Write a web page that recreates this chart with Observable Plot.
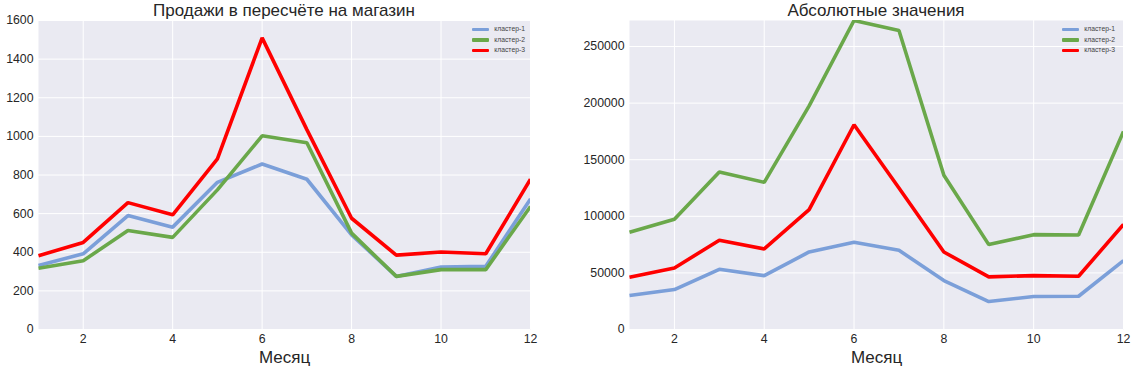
<!DOCTYPE html>
<html>
<head>
<meta charset="utf-8">
<script src="https://cdn.jsdelivr.net/npm/d3@7"></script>
<script src="https://cdn.jsdelivr.net/npm/@observablehq/plot@0.6"></script>
<style>
  html, body { margin: 0; padding: 0; background: #fff; }
  body { width: 1135px; height: 371px; position: relative; overflow: hidden; font-family: "Liberation Sans", Arial, sans-serif; color: #262626; }
  .panel { position: absolute; top: 0; }
  .title { position: absolute; top: 1px; font-size: 17px; text-align: center; white-space: nowrap; color: #262626; }
  .legend { position: absolute; font-size: 6.8px; color: #444; line-height: 10px; }
  .legend div { display: flex; align-items: center; height: 10.5px; }
  .legend span.sw { display: inline-block; width: 17px; height: 3.5px; margin-right: 5px; border-radius: 1px; }
</style>
</head>
<body>
<script>
const months = [1,2,3,4,5,6,7,8,9,10,11,12];
const seriesNames = ["кластер-1", "кластер-2", "кластер-3"];
const colors = ["#7b9fd9", "#6aa84a", "#ff0000"];
const xTicks = [2,4,6,8,10,12];

// Left panel: sales per store
const perStore1 = [332, 392, 590, 530, 762, 857, 778, 490, 275, 323, 327, 676];
const perStore2 = [317, 356, 513, 477, 723, 1003, 967, 499, 275, 310, 310, 637];
const perStore3 = [382, 451, 657, 594, 884, 1510, 1035, 576, 385, 401, 392, 778];
const perStoreTicks = [0, 200, 400, 600, 800, 1000, 1200, 1400, 1600];

// Right panel: absolute values
const abs1 = [30000, 35300, 53200, 47600, 68500, 77100, 70000, 43200, 24700, 29100, 29400, 60900];
const abs2 = [85900, 97350, 139100, 130000, 197600, 273000, 264100, 136200, 75000, 83800, 83500, 175000];
const abs3 = [46200, 54400, 78800, 71200, 105900, 180900, 125000, 68500, 46500, 47600, 47000, 92900];
const absTicks = [0, 50000, 100000, 150000, 200000, 250000];

const titles = ["Продажи в пересчёте на магазин", "Абсолютные значения"];
const xLabel = "Месяц";

function toRows(arrs) {
  const rows = [];
  arrs.forEach((arr, i) => arr.forEach((v, j) => rows.push({month: months[j], value: v, series: seriesNames[i]})));
  return rows;
}

function makePanel({left, width, marginLeft, marginRight, yDomain, yTicks, data, title, legendRight}) {
  const H = 371, marginTop = 20, marginBottom = 42;
  const div = document.createElement("div");
  div.className = "panel";
  div.style.left = left + "px";
  div.style.width = width + "px";
  div.style.height = H + "px";
  const plot = Plot.plot({
    width, height: H, marginLeft, marginRight, marginTop, marginBottom,
    style: {fontFamily: "'Liberation Sans', Arial, sans-serif", color: "#262626", background: "transparent", overflow: "visible"},
    x: {domain: [1, 12]},
    y: {domain: yDomain},
    color: {domain: seriesNames, range: colors},
    marks: [
      Plot.frame({fill: "#eaeaf2", stroke: null}),
      Plot.gridX(xTicks, {stroke: "#fff", strokeOpacity: 1, strokeWidth: 1}),
      Plot.gridY(yTicks, {stroke: "#fff", strokeOpacity: 1, strokeWidth: 1}),
      Plot.axisX(xTicks, {tickSize: 0, tickPadding: 5, fontSize: 12.3, label: null, fill: "#262626", tickFormat: d => String(d)}),
      Plot.axisY(yTicks, {tickSize: 0, tickPadding: 5, fontSize: 12.3, label: null, fill: "#262626", tickFormat: d => String(d)}),
      Plot.line(data, {x: "month", y: "value", z: "series", stroke: "series", strokeWidth: 3.6, strokeLinejoin: "miter", strokeLinecap: "butt", clip: true}),
      Plot.text([xLabel], {frameAnchor: "bottom", dy: 28, lineAnchor: "middle", text: d => d, fontSize: 17, fill: "#262626"})
    ]
  });
  div.appendChild(plot);
  const t = document.createElement("div");
  t.className = "title";
  t.textContent = title;
  t.style.left = marginLeft + "px";
  t.style.width = (width - marginLeft - marginRight) + "px";
  div.appendChild(t);
  const lg = document.createElement("div");
  lg.className = "legend";
  lg.style.top = "24px";
  lg.style.right = legendRight + "px";
  seriesNames.forEach((n, i) => {
    const row = document.createElement("div");
    const sw = document.createElement("span");
    sw.className = "sw";
    sw.style.background = colors[i];
    row.appendChild(sw);
    row.appendChild(document.createTextNode(n));
    lg.appendChild(row);
  });
  div.appendChild(lg);
  document.body.appendChild(div);
}

makePanel({left: 0, width: 560, marginLeft: 38, marginRight: 30, yDomain: [0, 1600], yTicks: perStoreTicks,
  data: toRows([perStore1, perStore2, perStore3]), title: titles[0], legendRight: 35});
makePanel({left: 560, width: 575, marginLeft: 69, marginRight: 12, yDomain: [0, d3.max([...abs1, ...abs2, ...abs3])], yTicks: absTicks,
  data: toRows([abs1, abs2, abs3]), title: titles[1], legendRight: 20});
</script>
</body>
</html>
